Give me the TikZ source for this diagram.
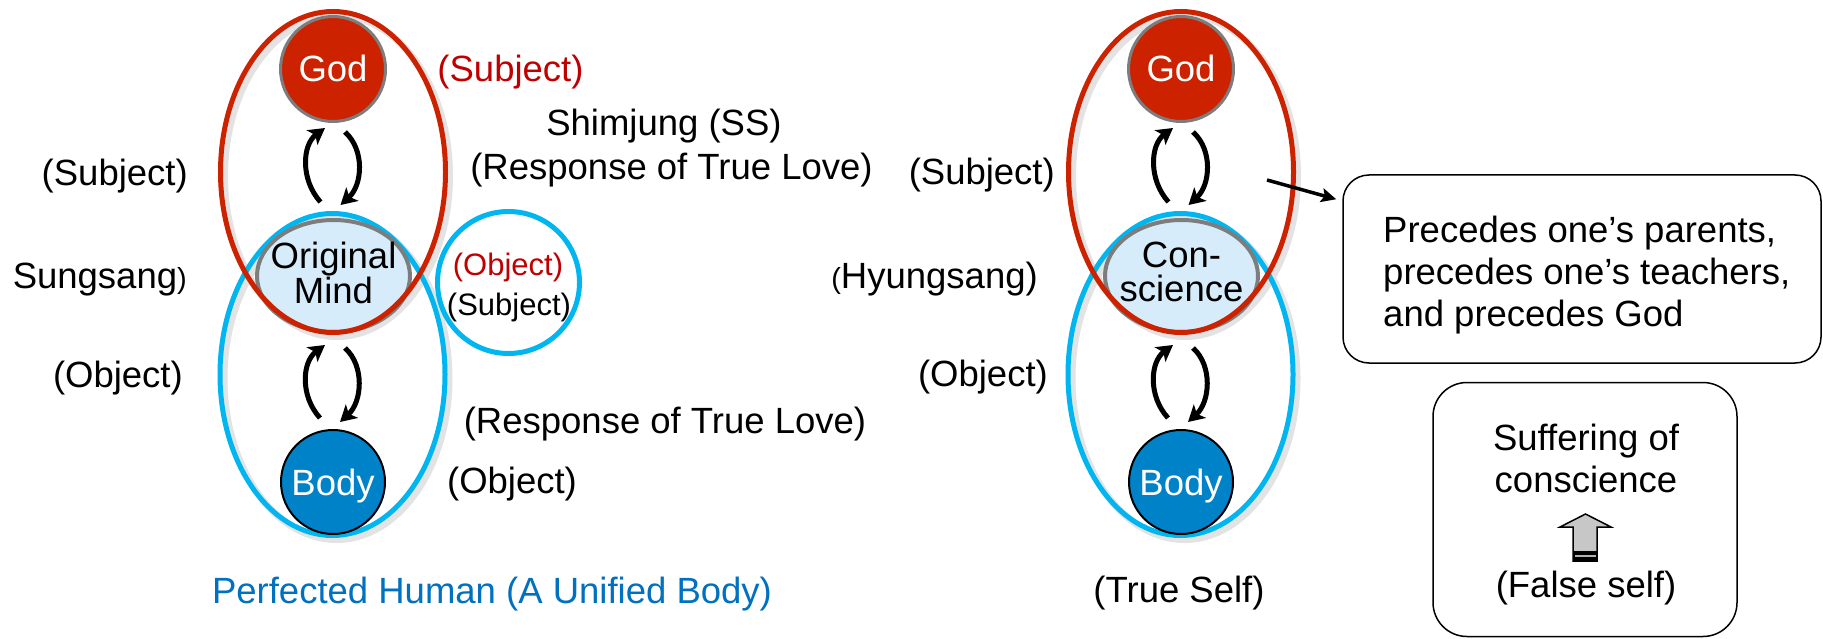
\documentclass[tikz,border=0pt]{standalone}
\usepackage{fontspec}
\setmainfont{Liberation Sans}
\usetikzlibrary{arrows.meta,calc,shapes.geometric}
\definecolor{godred}{RGB}{204,34,0}
\definecolor{subred}{RGB}{192,0,0}
\definecolor{skyb}{RGB}{0,182,240}
\definecolor{bodyb}{RGB}{0,130,200}
\definecolor{mindfill}{RGB}{214,236,250}
\definecolor{godgray}{RGB}{125,125,125}
\definecolor{textblue}{RGB}{0,112,192}
\newcommand{\mainsize}{\fontsize{36.5}{42}\selectfont}
\newcommand{\smallsize}{\fontsize{31}{36}\selectfont}
\begin{document}
\begin{tikzpicture}[x=1pt,y=-1pt,
  every node/.style={inner sep=0pt, font=\mainsize},
  lbl/.style={anchor=base},
  lblr/.style={anchor=base east},
  lbll/.style={anchor=base west},
  godst/.style={circle, fill=godred, draw=godgray, line width=3pt, minimum size=105pt, text=white, text height=26pt, text depth=0pt},
  bodyst/.style={circle, fill=bodyb, draw=black, line width=2pt, minimum size=104pt, text=white, text height=26pt, text depth=0pt},
  mindst/.style={ellipse, fill=mindfill, draw=godgray, line width=4pt, minimum width=153pt, minimum height=112pt},
  ringred/.style={draw=godred, line width=5pt},
  ringblue/.style={draw=skyb, line width=5pt},
  shade/.style={draw=black!11, line width=7pt, xshift=4pt, yshift=-4pt},
  cyc/.style={line width=5pt, -{Stealth[length=16pt,width=18pt,inset=4pt]}},
  pointer/.style={line width=3.5pt, -{Stealth[length=15pt,width=14pt,inset=3pt]}},
  roundbox/.style={draw=black, line width=1.5pt, fill=white}
]
\fill[white] (0,0) rectangle (1823,639);
\useasboundingbox (0,0) rectangle (1823,639);

% ---------------- left diagram ----------------
\draw[shade] (332.5,374.5) ellipse [x radius=112.5pt, y radius=161pt];
\draw[shade] (333,172) ellipse [x radius=112.5pt, y radius=160.5pt];
\draw[ringblue] (332.5,374.5) ellipse [x radius=112.5pt, y radius=161pt];
\node[circle, draw=skyb, line width=5pt, minimum size=142pt] (small) at (508.5,282.5) {};
\node[mindst, label={[align=center, font=\fontsize{36.5}{32}\selectfont, yshift=3pt]center:Original\\Mind}] (mind) at (333.5,276) {};
\draw[ringred] (333,172) ellipse [x radius=112.5pt, y radius=160.5pt];
\node[godst] (god) at (333,69) {God};
\node[bodyst] (body) at (333,482) {Body};

\draw[cyc] ($(mind.north)+(-13,-16)$) .. controls +(-20,-22) and +(-23,17) .. ($(god.south)+(-8,5)$);
\draw[cyc] ($(god.south)+(12,9)$) .. controls +(20,18) and +(22,-20) .. ($(mind.north)+(7,-13)$);
\draw[cyc] ($(body.north)+(-13,-11)$) .. controls +(-20,-22) and +(-23,17) .. ($(mind.south)+(-8.5,11)$);
\draw[cyc] ($(mind.south)+(11.5,14)$) .. controls +(20,18) and +(22,-20) .. ($(body.north)+(7,-7)$);

\node[lblr] (lsubj) at (188,186) {(Subject)};
\node[lblr] (lsung) at (187,288) {Sungsang{\fontsize{29}{30}\selectfont)}};
\node[lblr] (lobj) at (183,387) {(Object)};
\node[lbl, text=subred] (topsubj) at (510.5,82) {(Subject)};
\node[lbl] (shim) at (664,136) {Shimjung (SS)};
\node[lbl] (resp1) at (671.5,180) {(Response of True Love)};
\node[lbl, font=\smallsize, text=subred] (sobj) at (508,275) {(Object)};
\node[lbl, font=\smallsize] (ssubj) at (509,315) {(Subject)};
\node[lbl] (resp2) at (665,433) {(Response of True Love)};
\node[lbl] (bobj) at (512,493) {(Object)};
\node[lbl, text=textblue] (perf) at (492,603) {Perfected Human (A Unified Body)};

% ---------------- right diagram ----------------
\draw[shade] (1180.5,374.5) ellipse [x radius=112.5pt, y radius=161pt];
\draw[shade] (1181,172) ellipse [x radius=112.5pt, y radius=160.5pt];
\draw[ringblue] (1180.5,374.5) ellipse [x radius=112.5pt, y radius=161pt];
\node[mindst, label={[align=center, font=\fontsize{36.5}{34}\selectfont, yshift=4.5pt]center:Con-\\science}] (consc) at (1181.5,276) {};
\draw[ringred] (1181,172) ellipse [x radius=112.5pt, y radius=160.5pt];
\node[godst] (god2) at (1181,69) {God};
\node[bodyst] (body2) at (1181,482) {Body};

\draw[cyc] ($(consc.north)+(-13,-16)$) .. controls +(-20,-22) and +(-23,17) .. ($(god2.south)+(-8,5)$);
\draw[cyc] ($(god2.south)+(12,9)$) .. controls +(20,18) and +(22,-20) .. ($(consc.north)+(7,-13)$);
\draw[cyc] ($(body2.north)+(-13,-11)$) .. controls +(-20,-22) and +(-23,17) .. ($(consc.south)+(-8.5,11)$);
\draw[cyc] ($(consc.south)+(11.5,14)$) .. controls +(20,18) and +(22,-20) .. ($(body2.north)+(7,-7)$);

\node[lblr] (rsubj) at (1055,185) {(Subject)};
\node[lblr] (rhyung) at (1038,288) {{\fontsize{29}{30}\selectfont(}Hyungsang)};
\node[lblr] (robj) at (1048,386) {(Object)};
\node[lbl] (trueself) at (1179,602) {(True Self)};

% ---------------- boxes ----------------
\node[roundbox, rounded corners=26pt, minimum width=478pt, minimum height=188pt] (b1) at (1582,269) {};
\node[lbll] (b1l1) at (1383,242) {Precedes one’s parents,};
\node[lbll] (b1l2) at (1383,284) {precedes one’s teachers,};
\node[lbll] (b1l3) at (1383,326) {and precedes God};
\coordinate (ptr) at (1267,180);
\draw[pointer] (ptr) -- ($(b1.north west)+(-6,25)$);

\node[roundbox, rounded corners=34pt, minimum width=304pt, minimum height=254pt] (b2) at (1585,509.5) {};
\node[lbl] (b2l1) at (1586,450) {Suffering of};
\node[lbl] (b2l2) at (1586,492) {conscience};
\node[lbl] (b2l3) at (1586,597) {(False self)};
\filldraw[fill=black!22, draw=black, line width=1.5pt, line join=miter]
  (1573,561) -- (1573,527) -- (1560,527) -- (1585.5,514) -- (1611,527) -- (1597,527) -- (1597,561) -- cycle;
\fill[black] (1573,551) rectangle (1597,561);
\fill[black!30] (1574.5,555) rectangle (1595.5,557);
\end{tikzpicture}
\end{document}
